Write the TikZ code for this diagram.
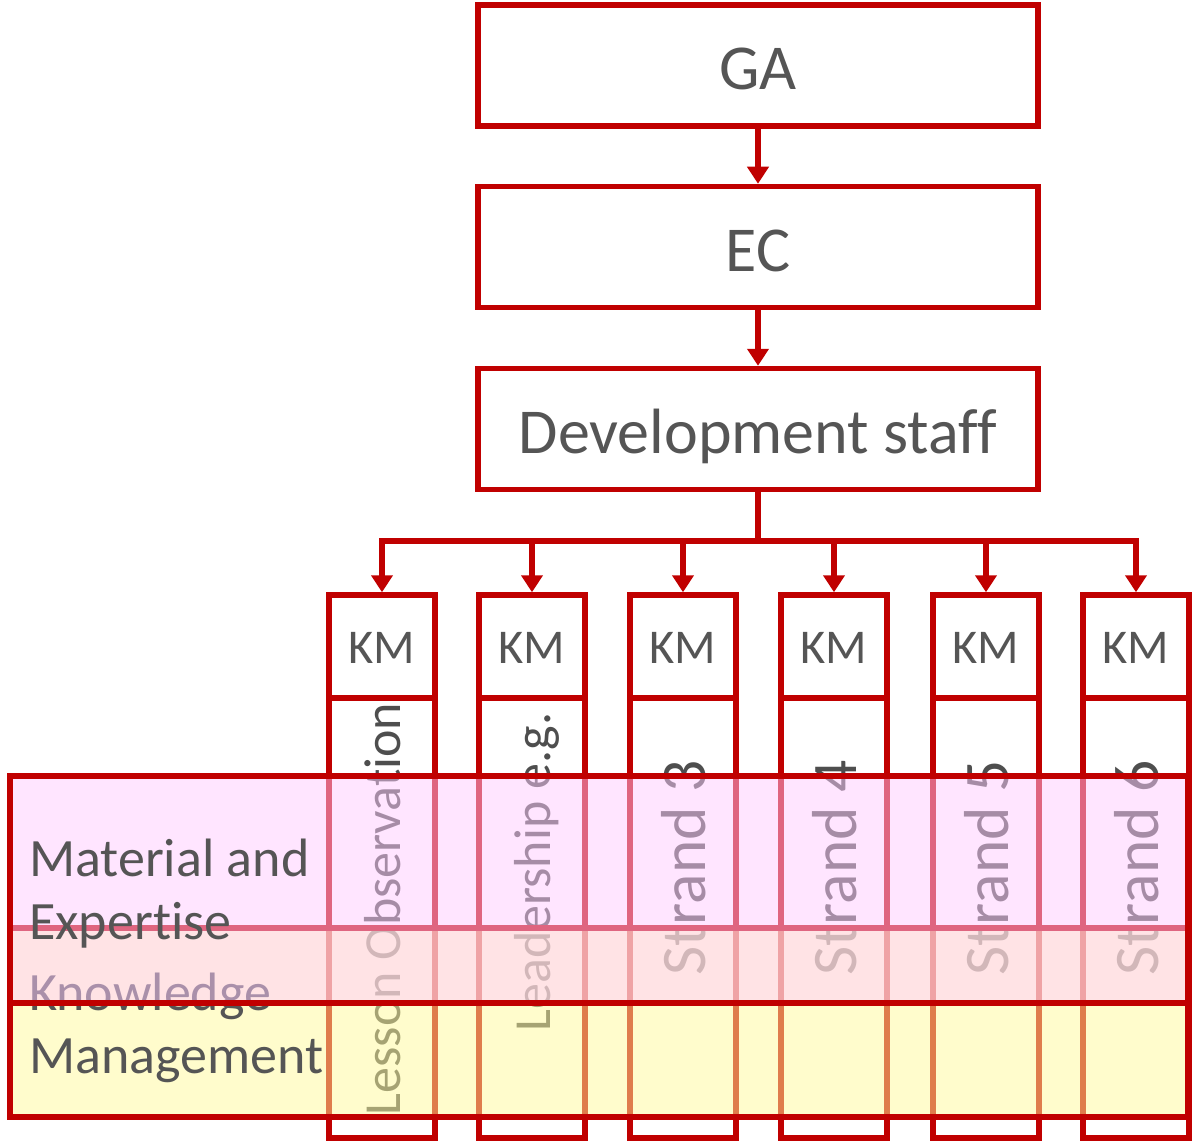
\documentclass[tikz,border=0pt]{standalone}
\usepackage{fontspec}
\setmainfont{Carlito}[Ligatures=NoCommon]
\usetikzlibrary{arrows.meta}
\definecolor{kred}{RGB}{192,0,0}
\definecolor{ktext}{RGB}{85,85,85}
\definecolor{kcoltext}{RGB}{78,78,78}
\definecolor{kpink}{RGB}{255,203,255}
\definecolor{kyellow}{RGB}{255,249,153}
\begin{document}
\begin{tikzpicture}[x=1pt,y=-1pt,
  box/.style={draw=kred, line width=5.5pt, fill=white, minimum width=560pt, minimum height=121pt, inner sep=0pt, text=ktext, font=\fontsize{64}{76}\selectfont, text height=49pt, text depth=0pt},
  kmbox/.style={draw=kred, line width=5.5pt, fill=white, minimum width=106pt, minimum height=103pt, inner sep=0pt, text=ktext, font=\fontsize{48.5}{58}\selectfont, text height=33pt, text depth=0pt},
  colbox/.style={draw=kred, line width=5.5pt, minimum width=106pt, minimum height=440pt, inner sep=0pt},
  coltext/.style={rotate=90, text=kcoltext, inner sep=0pt, text depth=0pt},
  band/.style={draw=kred, line width=5.5pt, fill opacity=0.5, minimum width=1178pt, inner sep=0pt},
  bandtext/.style={anchor=west, align=left, text=ktext, inner sep=0pt, font=\fontsize{54}{63}\selectfont},
  conn/.style={draw=kred, line width=5.5pt, -{Triangle[width=21pt,length=17pt]}},
]
\useasboundingbox (0,0) rectangle (1192,1142);

% top chain
\node[box] (ga) at (758,65.5) {GA};
\node[box] (ec) at (758,247) {EC};
\node[box] (dev) at (758,429) {Development staff};
\draw[conn] (ga.south) -- (ec.north);
\draw[conn] (ec.south) -- (dev.north);

% KM boxes and columns
\foreach \i/\x in {1/382, 2/532, 3/683, 4/834, 5/986, 6/1136} {
  \node[kmbox] (km\i) at (\x,646.5) {KM};
  \node[colbox] (col\i) at (\x,918) {};
}
\coordinate (bus) at (758,541);
\foreach \i in {1,...,6} {
  \draw[conn] (dev.south) -- (bus) -| (km\i.north);
}

% column texts
\node[coltext, text height=36.4pt, font=\fontsize{52}{62}\selectfont] (t1) at (382,909) {Lesson Observation};
\node[coltext, text height=36.4pt, font=\fontsize{52}{62}\selectfont] (t2) at (532,872) {Leadership e.g.};
\node[coltext, text height=44pt, font=\fontsize{63.5}{76}\selectfont] (t3) at (683,868) {Strand 3};
\node[coltext, text height=44pt, font=\fontsize{63.5}{76}\selectfont] (t4) at (834,868) {Strand 4};
\node[coltext, text height=44pt, font=\fontsize{63.5}{76}\selectfont] (t5) at (986,868) {Strand 5};
\node[coltext, text height=44pt, font=\fontsize{63.5}{76}\selectfont] (t6) at (1136,868) {Strand 6};

% knowledge management band
\node[band, fill=kyellow, minimum height=189pt] (kmband) at (599,1022.5) {};
\node[bandtext] (kmlabel) at (29,1028) {Knowledge\\Management};

% material and expertise band
\node[band, fill=kpink, minimum height=227pt] (meband) at (599,889.5) {};
\node[bandtext] (melabel) at (29,894) {Material and\\Expertise};
\end{tikzpicture}
\end{document}
